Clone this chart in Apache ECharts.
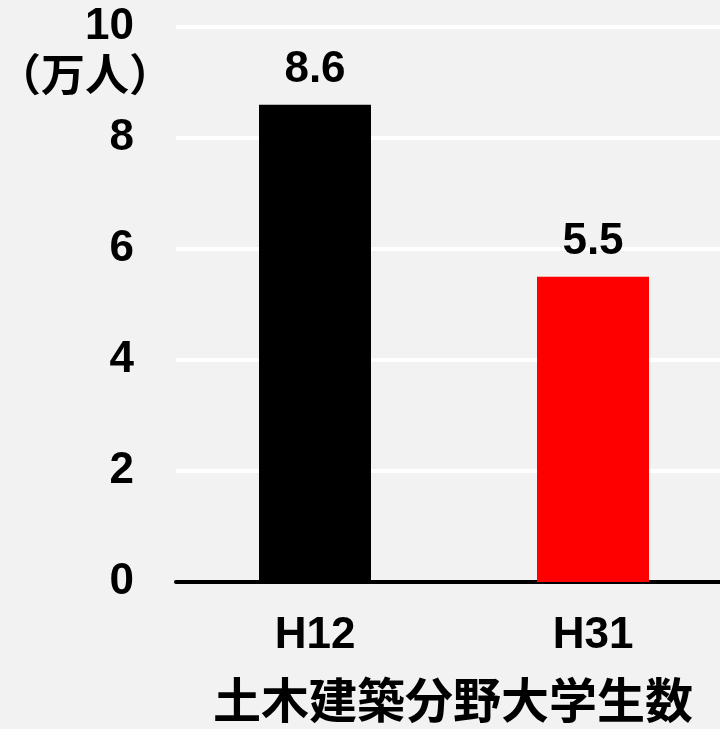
<!DOCTYPE html>
<html>
<head>
<meta charset="utf-8">
<script src="https://cdn.jsdelivr.net/npm/echarts@6/dist/echarts.min.js"></script>
<style>
    html, body { margin: 0; padding: 0; background: #f2f2f2; }
    #chart { width: 720px; height: 729px; }
</style>
</head>
<body>
<div id="chart"></div>
<script>
(function () {

    var categories = ['H12', 'H31'];
    var values = [8.6, 5.5];
    var barColors = ['#000000', '#ff0000'];
    var unitLabel = '（万人）';
    var axisTitle = '土木建築分野大学生数';

    var latin = '"Liberation Sans", Arial, sans-serif';
    var cjk = '"Noto Sans CJK JP", sans-serif';

    var chart = window.echarts.init(document.getElementById('chart'));

    var option = {
        backgroundColor: '#f2f2f2',
        animation: false,
        grid: {
            left: 176,
            width: 556,
            top: 27,
            bottom: 147,
            outerBoundsMode: 'none'
        },
        xAxis: {
            type: 'category',
            data: categories,
            axisLine: { lineStyle: { color: '#000', width: 4 } },
            axisTick: { show: false },
            axisLabel: {
                color: '#000',
                fontSize: 44,
                fontWeight: 'bold',
                fontFamily: latin,
                margin: 32
            }
        },
        yAxis: {
            type: 'value',
            min: 0,
            max: 10,
            interval: 2,
            axisLine: { show: false },
            axisTick: { show: false },
            splitLine: { lineStyle: { color: '#ffffff', width: 4 } },
            axisLabel: {
                color: '#000',
                fontSize: 44,
                fontWeight: 'bold',
                fontFamily: latin,
                margin: 42
            }
        },
        graphic: [
            {
                type: 'text',
                x: -3,
                y: 52,
                style: {
                    text: unitLabel,
                    fill: '#000',
                    font: 'bold 44px ' + cjk
                }
            },
            {
                type: 'text',
                x: 213,
                y: 676,
                style: {
                    text: axisTitle,
                    fill: '#000',
                    font: 'bold 48px ' + cjk
                }
            }
        ],
        series: [
            {
                type: 'bar',
                barWidth: 112,
                data: values.map(function (v, i) {
                    return { value: v, itemStyle: { color: barColors[i] } };
                }),
                label: {
                    show: true,
                    position: 'top',
                    distance: 13,
                    color: '#000',
                    fontSize: 44,
                    fontWeight: 'bold',
                    fontFamily: latin
                }
            }
        ]
    };

    chart.setOption(option);
})();
</script>
</body>
</html>
